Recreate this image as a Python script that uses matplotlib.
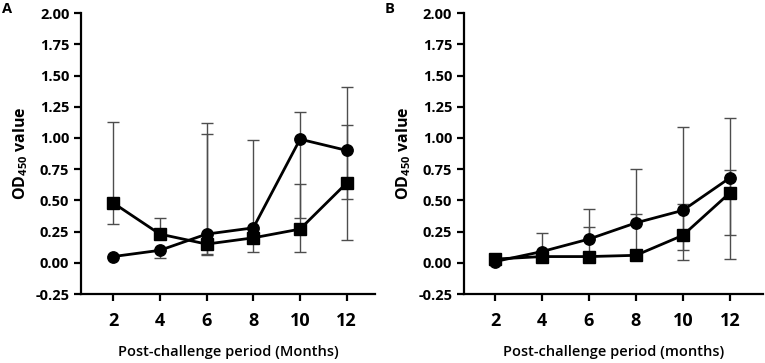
import numpy as np
import matplotlib
matplotlib.use("Agg")
import matplotlib.pyplot as plt

plt.rcParams['font.family'] = ['Open Sans', 'DejaVu Sans']
plt.rcParams['mathtext.fontset'] = 'custom'
plt.rcParams['mathtext.rm'] = 'Open Sans:bold'
plt.rcParams['mathtext.it'] = 'Open Sans:italic:bold'
plt.rcParams['mathtext.bf'] = 'Open Sans:bold'

nan = np.nan
months = [2, 4, 6, 8, 10, 12]

# panel A (means and the error bar ends)
a_circle = [0.05, 0.10, 0.23, 0.28, 0.99, 0.90]
a_circle_hi = [nan, nan, 1.12, 0.98, 1.21, 1.41]
a_circle_lo = [nan, 0.04, 0.07, nan, 0.36, 0.51]
a_square = [0.48, 0.23, 0.15, 0.20, 0.27, 0.64]
a_square_hi = [1.13, 0.36, 1.03, nan, 0.63, 1.10]
a_square_lo = [0.31, nan, 0.06, 0.09, 0.09, 0.18]

# panel B
b_circle = [0.01, 0.09, 0.19, 0.32, 0.42, 0.68]
b_circle_hi = [nan, 0.24, 0.43, 0.75, 1.09, 1.16]
b_circle_lo = [nan, nan, nan, nan, 0.10, 0.22]
b_square = [0.03, 0.05, 0.05, 0.06, 0.22, 0.56]
b_square_hi = [nan, nan, 0.29, 0.39, 0.47, 0.74]
b_square_lo = [nan, nan, nan, nan, 0.02, 0.03]

yticks = [-0.25, 0.0, 0.25, 0.5, 0.75, 1.0, 1.25, 1.5, 1.75, 2.0]


def whisker(ax, mean, ends):
    # one-sided bar from the mean to the end, with a cap
    for x, m, e in zip(months, mean, ends):
        if np.isnan(e):
            continue
        ax.vlines(x, m, e, color='#4d4d4d', lw=1.0, zorder=2)
        ax.plot(x, e, marker='_', markersize=8.5, mew=1.0, color='#4d4d4d', zorder=2)


def draw(ax, mean, hi, lo, marker, ms):
    whisker(ax, mean, hi)
    whisker(ax, mean, lo)
    ax.plot(months, mean, color='black', lw=2.0, marker=marker,
            markersize=ms, zorder=3)


def style(ax, xlabel):
    ax.set_ylim(-0.25, 2.0)
    ax.set_yticks(yticks)
    ax.set_yticklabels([f'{v:.2f}' for v in yticks], fontsize=10.5, fontweight='bold')
    ax.set_xticks(months)
    ax.set_xticklabels([str(m) for m in months], fontsize=13, fontweight='bold')
    ax.spines['top'].set_visible(False)
    ax.spines['right'].set_visible(False)
    ax.spines['left'].set_linewidth(1.6)
    ax.spines['bottom'].set_linewidth(1.6)
    ax.tick_params(width=1.6, length=5)
    ax.tick_params(axis='x', pad=8)
    ax.set_ylabel(r'OD$_{450}$ value', fontsize=11.5, fontweight='bold', labelpad=4)
    ax.set_xlabel(xlabel, fontsize=10.5, fontweight='semibold', labelpad=11)


fig = plt.figure(figsize=(7.65, 3.63), dpi=100)
axA = fig.add_axes([0.106, 0.19, 0.384, 0.774])
axB = fig.add_axes([0.6065, 0.19, 0.3905, 0.774])

draw(axA, a_circle, a_circle_hi, a_circle_lo, 'o', 8.2)
draw(axA, a_square, a_square_hi, a_square_lo, 's', 8.0)
axA.set_xlim(0.63, 13.2)
style(axA, 'Post-challenge period (Months)')

draw(axB, b_circle, b_circle_hi, b_circle_lo, 'o', 8.2)
draw(axB, b_square, b_square_hi, b_square_lo, 's', 8.0)
axB.set_xlim(0.68, 13.4)
style(axB, 'Post-challenge period (months)')

fig.text(0.003, 0.975, 'A', fontsize=10.5, fontweight='bold', va='center')
fig.text(0.503, 0.975, 'B', fontsize=10.5, fontweight='bold', va='center')

fig.savefig('out.png', dpi=100)
